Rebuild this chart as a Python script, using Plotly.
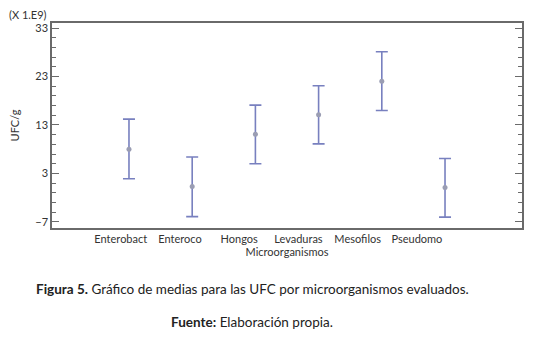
import plotly.graph_objects as go

categories = ["Enterobact", "Enteroco", "Hongos", "Levaduras", "Mesofilos", "Pseudomo"]
means = [8.0, 0.3, 11.1, 15.1, 22.0, 0.1]
err_upper = [6.2, 6.1, 6.0, 6.0, 6.1, 6.0]
err_lower = [6.1, 6.2, 6.1, 6.0, 6.0, 6.1]
y_ticks = [-7, 3, 13, 23, 33]

x_pos = list(range(len(categories)))
# tick labels in the original are set slightly left of the marks
label_pos = [i * 0.937 - 0.13 for i in x_pos]

FONT = "Lato"
TXT = "#333333"
fig = go.Figure()
fig.add_trace(go.Scatter(
    x=x_pos, y=means, mode="markers",
    marker=dict(color="#9a9db3", size=5),
    error_y=dict(type="data", symmetric=False, array=err_upper, arrayminus=err_lower,
                 color="#7880bf", thickness=1.6, width=6),
    showlegend=False, hoverinfo="skip",
))

fig.update_layout(
    width=556, height=338,
    margin=dict(l=52, r=34, t=23, b=110),
    paper_bgcolor="white", plot_bgcolor="white",
    font=dict(family=FONT, size=11, color=TXT),
    xaxis=dict(
        range=[-1.218, 6.218], tickvals=label_pos, ticktext=categories,
        showgrid=False, zeroline=False, showline=True, linecolor="#6a6a6a",
        linewidth=1.5, mirror=True, ticks="",
        tickfont=dict(family=FONT, size=11, color=TXT),
        title=dict(text="Microorganismos", font=dict(family=FONT, size=11, color=TXT),
                   standoff=1),
    ),
    yaxis=dict(
        range=[-8.24, 34.03], tickvals=y_ticks,
        showgrid=False, zeroline=False, showline=True, linecolor="#6a6a6a",
        linewidth=1.5, mirror="ticks", ticks="inside", ticklen=7, tickcolor="#6a6a6a",
        tickwidth=1,
        minor=dict(tick0=3, dtick=2, ticks="inside", ticklen=4, tickcolor="#6a6a6a", tickwidth=1),
        tickfont=dict(family=FONT, size=11, color=TXT),
        title=dict(text="UFC/g", font=dict(family=FONT, size=11, color=TXT), standoff=13),
    ),
)

pw, ph = 556 - 52 - 34, 338 - 23 - 110


def px_ann(text, x, y, size, xanchor="center", color=TXT):
    fig.add_annotation(text=text, x=(x - 52) / pw, y=1 - (y - 23) / ph,
                       xref="paper", yref="paper", showarrow=False,
                       xanchor=xanchor, yanchor="middle",
                       font=dict(family=FONT, size=size, color=color))


px_ann("(X 1.E9)", 7, 15, 11, xanchor="left")
px_ann("<b>Figura 5.</b> Gráfico de medias para las UFC por microorganismos evaluados.",
       252, 289, 13.5, color="#222222")
px_ann("<b>Fuente:</b> Elaboración propia.", 252, 322, 13.5, color="#222222")

fig.write_html("out.html")
